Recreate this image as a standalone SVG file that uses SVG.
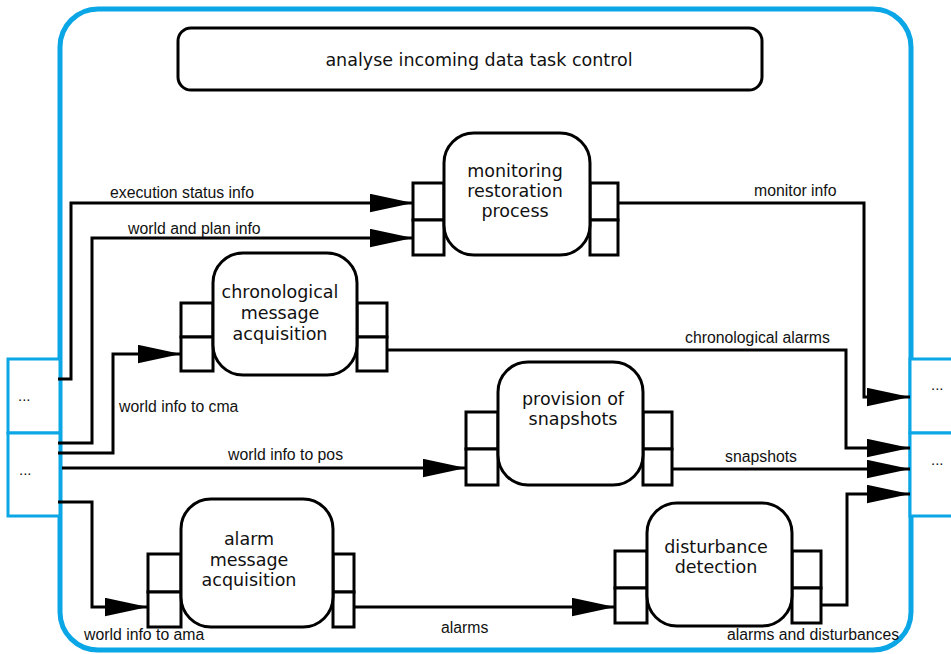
<svg xmlns="http://www.w3.org/2000/svg" width="951" height="654" viewBox="0 0 951 654">
<defs>
<style>
.frame{fill:none;stroke:#0aa6e6;stroke-width:5}
.bport{fill:#fff;stroke:#0aa6e6;stroke-width:3}
.box{fill:#fff;stroke:#000;stroke-width:3}
.port{fill:#fff;stroke:#000;stroke-width:3}
.conn{fill:none;stroke:#000;stroke-width:3;marker-end:url(#arr)}
.nl{font-family:"DejaVu Sans",sans-serif;font-size:17.5px;fill:#111;text-anchor:middle}
.el{font-family:"Liberation Sans",Arial,sans-serif;font-size:15.8px;fill:#111}
.dots{font-family:"Liberation Sans",Arial,sans-serif;font-size:15px;fill:#111}
</style>
<marker id="arr" markerUnits="userSpaceOnUse" markerWidth="43" markerHeight="19" viewBox="0 0 42 18" refX="42" refY="9" orient="auto">
<path d="M0,0 L42,9 L0,18 z" fill="#000"/>
</marker>
</defs>
<rect width="951" height="654" fill="#fff"/>

<g id="outer-frame">
<rect class="frame" x="60" y="9" width="851" height="641" rx="38"/>
</g>

<g id="left-port-top">
<rect class="bport" x="8" y="359" width="52" height="74"/>
<text class="dots" x="18" y="401">...</text>
</g>
<g id="left-port-bottom">
<rect class="bport" x="8" y="433" width="52" height="83"/>
<text class="dots" x="19" y="475">...</text>
</g>
<g id="right-port-top">
<path class="bport" d="M951,359 H910 V433 H951"/>
<text class="dots" x="931" y="390">...</text>
</g>
<g id="right-port-bottom">
<path class="bport" d="M951,433 H910 V516 H951"/>
<text class="dots" x="931" y="465">...</text>
</g>

<g id="title">
<rect class="box" x="178" y="28" width="584" height="62" rx="13" stroke-width="2.5"/>
<text class="nl" x="479" y="66">analyse incoming data task control</text>
</g>

<g id="connectors">
<path class="conn" d="M58,379 H71 V203 H413"/>
<path class="conn" d="M58,443 H92 V238 H413"/>
<path class="conn" d="M58,453 H113 V354 H181"/>
<path class="conn" d="M62,468 H466"/>
<path class="conn" d="M58,502 H92 V607 H148"/>
<path class="conn" d="M618,203 H864 V397 H910"/>
<path class="conn" d="M387,350 H846 V448 H910"/>
<path class="conn" d="M672,469 H910"/>
<path class="conn" d="M354,607 H615"/>
<path class="conn" d="M821,605 H847 V494 H910"/>
<text class="el" x="110" y="198">execution status info</text>
<text class="el" x="128" y="234">world and plan info</text>
<text class="el" x="119" y="412">world info to cma</text>
<text class="el" x="228" y="460">world info to pos</text>
<text class="el" x="84" y="640">world info to ama</text>
<text class="el" x="754" y="196">monitor info</text>
<text class="el" x="685" y="343">chronological alarms</text>
<text class="el" x="725" y="462">snapshots</text>
<text class="el" x="441" y="633">alarms</text>
<text class="el" x="727" y="640">alarms and disturbances</text>
</g>

<g id="monitoring-restoration-process">
<rect class="port" x="413" y="183" width="31" height="37"/>
<rect class="port" x="413" y="220" width="31" height="35"/>
<rect class="port" x="590" y="183" width="28" height="37"/>
<rect class="port" x="590" y="220" width="28" height="35"/>
<rect class="box" x="444" y="133" width="146" height="122" rx="30"/>
<text class="nl" x="515" y="177">monitoring</text>
<text class="nl" x="515" y="197">restoration</text>
<text class="nl" x="515" y="217">process</text>
</g>

<g id="chronological-message-acquisition">
<rect class="port" x="181" y="303" width="32" height="34"/>
<rect class="port" x="181" y="337" width="32" height="34"/>
<rect class="port" x="357" y="303" width="30" height="34"/>
<rect class="port" x="357" y="337" width="30" height="34"/>
<rect class="box" x="213" y="253" width="144" height="122" rx="30"/>
<text class="nl" x="280" y="298">chronological</text>
<text class="nl" x="280" y="319">message</text>
<text class="nl" x="280" y="340">acquisition</text>
</g>

<g id="provision-of-snapshots">
<rect class="port" x="466" y="412" width="32" height="37"/>
<rect class="port" x="466" y="449" width="32" height="36"/>
<rect class="port" x="643" y="412" width="29" height="37"/>
<rect class="port" x="643" y="449" width="29" height="36"/>
<rect class="box" x="498" y="362" width="145" height="123" rx="30"/>
<text class="nl" x="573" y="405">provision of</text>
<text class="nl" x="573" y="425">snapshots</text>
</g>

<g id="alarm-message-acquisition">
<rect class="port" x="148" y="554" width="33" height="38"/>
<rect class="port" x="148" y="592" width="33" height="35"/>
<rect class="port" x="333" y="554" width="21" height="38"/>
<rect class="port" x="333" y="592" width="21" height="35"/>
<rect class="box" x="181" y="499" width="152" height="128" rx="30"/>
<text class="nl" x="249" y="545">alarm</text>
<text class="nl" x="249" y="566">message</text>
<text class="nl" x="249" y="586">acquisition</text>
</g>

<g id="disturbance-detection">
<rect class="port" x="615" y="551" width="32" height="37"/>
<rect class="port" x="615" y="588" width="32" height="35"/>
<rect class="port" x="792" y="551" width="29" height="37"/>
<rect class="port" x="792" y="588" width="29" height="35"/>
<rect class="box" x="647" y="503" width="145" height="123" rx="30"/>
<text class="nl" x="716" y="553">disturbance</text>
<text class="nl" x="716" y="573">detection</text>
</g>
</svg>
